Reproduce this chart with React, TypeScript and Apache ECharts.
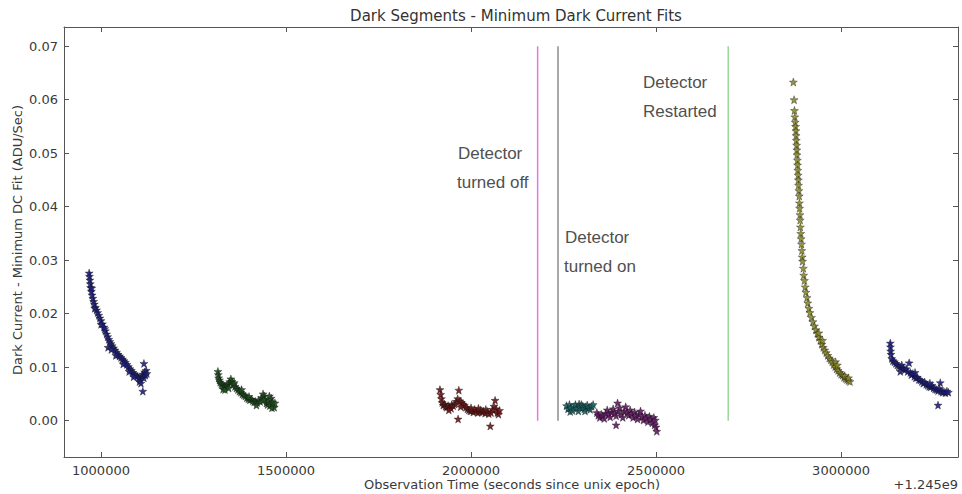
import React, { useEffect, useRef } from "react";
import * as echarts from "echarts";

// x = observation time minus 1.245e9 s, y = dark current minus minimum DC fit (ADU/Sec)
const segment1: number[][] = [
  [968000, 0.0276], [969000, 0.0270], [970000, 0.0263], [971000, 0.0256], [972000, 0.0249],
  [974000, 0.0242], [976000, 0.0235], [978000, 0.0229], [980000, 0.0223], [982000, 0.0218],
  [985000, 0.0212], [988000, 0.0207], [991000, 0.0202], [994000, 0.0197], [997000, 0.0192],
  [1000000, 0.0187], [1004000, 0.0181], [1008000, 0.0175], [1012000, 0.0168], [1015000, 0.0162],
  [1018000, 0.0157], [1021000, 0.0152], [1024000, 0.0148], [1027000, 0.0144], [1030000, 0.0140],
  [1034000, 0.0136], [1038000, 0.0132], [1042000, 0.0128], [1046000, 0.0124], [1050000, 0.0121],
  [1054000, 0.0118], [1058000, 0.0115], [1062000, 0.0112], [1066000, 0.0109], [1070000, 0.0105],
  [1074000, 0.0101], [1078000, 0.0097], [1082000, 0.0094], [1086000, 0.0090], [1090000, 0.0087],
  [1094000, 0.0085], [1098000, 0.0083], [1102000, 0.0080], [1106000, 0.0078], [1110000, 0.0083],
  [1113000, 0.0087], [1116000, 0.0080], [1118000, 0.0091], [1120000, 0.0085], [1122000, 0.0094],
  [1124000, 0.0088], [1116000, 0.0107], [1113000, 0.0055], [1104000, 0.0073], [1019000, 0.0137],
  [1028000, 0.0133], [1040000, 0.0122], [1060000, 0.0106], [1076000, 0.0092], [1088000, 0.0082],
  [1000000, 0.0180], [1010000, 0.0172], [975000, 0.0248], [983000, 0.0210], [1108000, 0.0070],
];

const segment2: number[][] = [
  [1316000, 0.0092], [1317000, 0.0086], [1318000, 0.0080], [1320000, 0.0076], [1322000, 0.0072],
  [1325000, 0.0069], [1328000, 0.0067], [1332000, 0.0065], [1336000, 0.0064], [1340000, 0.0066],
  [1344000, 0.0069], [1348000, 0.0073], [1351000, 0.0078], [1354000, 0.0073], [1358000, 0.0068],
  [1362000, 0.0064], [1366000, 0.0061], [1370000, 0.0058], [1374000, 0.0055], [1378000, 0.0053],
  [1382000, 0.0050], [1386000, 0.0048], [1390000, 0.0046], [1394000, 0.0043], [1398000, 0.0041],
  [1402000, 0.0039], [1406000, 0.0040], [1410000, 0.0037], [1414000, 0.0035], [1418000, 0.0036],
  [1422000, 0.0034], [1426000, 0.0038], [1430000, 0.0036], [1434000, 0.0043], [1438000, 0.0050],
  [1441000, 0.0046], [1444000, 0.0040], [1447000, 0.0033], [1450000, 0.0030], [1453000, 0.0036],
  [1456000, 0.0028], [1460000, 0.0042], [1464000, 0.0035], [1468000, 0.0025], [1470000, 0.0033],
  [1330000, 0.0059], [1335000, 0.0058], [1345000, 0.0061], [1360000, 0.0071], [1380000, 0.0058],
  [1400000, 0.0045], [1420000, 0.0029], [1440000, 0.0039], [1455000, 0.0046], [1462000, 0.0024],
];

const segment3: number[][] = [
  [1916000, 0.0058], [1918000, 0.0049], [1920000, 0.0041], [1922000, 0.0034], [1925000, 0.0029],
  [1928000, 0.0031], [1931000, 0.0027], [1934000, 0.0025], [1938000, 0.0028], [1942000, 0.0026],
  [1946000, 0.0023], [1948000, 0.0030], [1952000, 0.0028], [1956000, 0.0031], [1960000, 0.0036],
  [1964000, 0.0041], [1965000, 0.0003], [1967000, 0.0057], [1970000, 0.0037], [1974000, 0.0034],
  [1978000, 0.0031], [1982000, 0.0029], [1986000, 0.0025], [1990000, 0.0022], [1994000, 0.0020],
  [1998000, 0.0018], [2002000, 0.0019], [2006000, 0.0016], [2010000, 0.0021], [2014000, 0.0018],
  [2018000, 0.0015], [2022000, 0.0017], [2026000, 0.0020], [2030000, 0.0016], [2034000, 0.0018],
  [2038000, 0.0014], [2044000, 0.0017], [2048000, 0.0013], [2052000, -0.0010], [2054000, 0.0015],
  [2058000, 0.0021], [2062000, 0.0027], [2065000, 0.0038], [2068000, 0.0022], [2071000, 0.0015],
  [2074000, 0.0012], [2077000, 0.0019], [1940000, 0.0020], [1972000, 0.0026], [2000000, 0.0024],
  [2020000, 0.0023], [2040000, 0.0021],
];

const segment4: number[][] = [
  [2258000, 0.0028], [2262000, 0.0022], [2266000, 0.0030], [2268000, 0.0017], [2270000, 0.0024],
  [2274000, 0.0019], [2278000, 0.0026], [2282000, 0.0030], [2286000, 0.0023], [2290000, 0.0018],
  [2292000, 0.0031], [2294000, 0.0025], [2298000, 0.0030], [2302000, 0.0027], [2306000, 0.0022],
  [2308000, 0.0018], [2310000, 0.0026], [2314000, 0.0029], [2318000, 0.0024], [2322000, 0.0021],
  [2326000, 0.0027], [2330000, 0.0030],
];

const segment5: number[][] = [
  [2340000, 0.0015], [2344000, 0.0010], [2348000, 0.0006], [2352000, 0.0012], [2356000, 0.0008],
  [2360000, 0.0004], [2364000, 0.0014], [2368000, 0.0020], [2372000, 0.0012], [2376000, 0.0007],
  [2380000, 0.0016], [2384000, 0.0022], [2388000, 0.0014], [2392000, 0.0009], [2392000, -0.0008],
  [2396000, 0.0033], [2398000, 0.0018], [2402000, 0.0024], [2406000, 0.0012], [2410000, 0.0006],
  [2414000, 0.0018], [2418000, 0.0026], [2422000, 0.0015], [2426000, 0.0010], [2430000, 0.0020],
  [2434000, 0.0013], [2438000, 0.0006], [2442000, 0.0016], [2446000, 0.0009], [2450000, 0.0003],
  [2454000, 0.0012], [2458000, 0.0018], [2462000, 0.0007], [2466000, 0.0001], [2470000, 0.0010],
  [2474000, 0.0005], [2478000, -0.0002], [2482000, 0.0008], [2486000, 0.0003], [2490000, -0.0004],
  [2494000, 0.0006], [2496000, -0.0008], [2498000, 0.0001], [2500000, -0.0012], [2502000, -0.0020],
];

const segment6: number[][] = [
  [2871000, 0.0633], [2873000, 0.0600], [2874000, 0.0580], [2875000, 0.0568], [2876000, 0.0558],
  [2877000, 0.0550], [2878000, 0.0542], [2878500, 0.0533], [2879000, 0.0524], [2880000, 0.0515],
  [2880500, 0.0506], [2881000, 0.0497], [2882000, 0.0487], [2882500, 0.0478], [2883000, 0.0468],
  [2884000, 0.0459], [2884500, 0.0450], [2885000, 0.0440], [2886000, 0.0430], [2887000, 0.0420],
  [2887500, 0.0407], [2888000, 0.0397], [2889000, 0.0385], [2889500, 0.0375], [2890000, 0.0362],
  [2891000, 0.0350], [2892000, 0.0340], [2893000, 0.0330], [2894000, 0.0318], [2895000, 0.0306],
  [2896000, 0.0298], [2898000, 0.0285], [2899000, 0.0272], [2901000, 0.0262], [2903000, 0.0250],
  [2905000, 0.0240], [2908000, 0.0230], [2910000, 0.0220], [2913000, 0.0210], [2916000, 0.0202],
  [2920000, 0.0193], [2924000, 0.0185], [2928000, 0.0177], [2932000, 0.0170], [2936000, 0.0163],
  [2940000, 0.0156], [2944000, 0.0150], [2948000, 0.0143], [2952000, 0.0137], [2956000, 0.0132],
  [2960000, 0.0127], [2964000, 0.0122], [2968000, 0.0117], [2972000, 0.0114], [2976000, 0.0110],
  [2980000, 0.0105], [2984000, 0.0101], [2988000, 0.0097], [2992000, 0.0094], [2996000, 0.0090],
  [3000000, 0.0087], [3004000, 0.0085], [3008000, 0.0081], [3012000, 0.0079], [3016000, 0.0077],
  [3020000, 0.0075], [3024000, 0.0073], [2985000, 0.0110], [2990000, 0.0104], [2950000, 0.0150],
  [2940000, 0.0164], [3010000, 0.0084], [3020000, 0.0080],
];

const segment7: number[][] = [
  [3133000, 0.0145], [3133500, 0.0138], [3134000, 0.0130], [3135000, 0.0124], [3137000, 0.0116],
  [3140000, 0.0112], [3144000, 0.0110], [3148000, 0.0107], [3152000, 0.0104], [3156000, 0.0102],
  [3160000, 0.0100], [3164000, 0.0104], [3168000, 0.0098], [3172000, 0.0095], [3176000, 0.0097],
  [3180000, 0.0092], [3184000, 0.0108], [3187000, 0.0090], [3190000, 0.0086], [3194000, 0.0088],
  [3198000, 0.0083], [3202000, 0.0080], [3206000, 0.0081], [3210000, 0.0077], [3214000, 0.0076],
  [3218000, 0.0073], [3222000, 0.0070], [3226000, 0.0072], [3230000, 0.0068], [3234000, 0.0066],
  [3238000, 0.0064], [3242000, 0.0063], [3246000, 0.0066], [3250000, 0.0061], [3254000, 0.0059],
  [3258000, 0.0058], [3262000, 0.0056], [3266000, 0.0060], [3268000, 0.0071], [3270000, 0.0055],
  [3274000, 0.0053], [3278000, 0.0054], [3282000, 0.0052], [3286000, 0.0055], [3290000, 0.0053],
  [3262000, 0.0029], [3200000, 0.0090], [3160000, 0.0092], [3240000, 0.0070],
];

const segmentColors = ["#1e1e80", "#1d4d1d", "#6a1616", "#1b6262", "#621a62", "#8a8a2a", "#1e1e80"];

// events: detector turned off / on / restarted
const eventTimes = [2180000, 2235000, 2695000];
const eventColors = ["#e07ae8", "#a8a8a8", "#98d898"];
const eventSpan = [0, 0.07];

const xTicks = { min: 900000, max: 3316000 };
const yTicks = { min: -0.0068, max: 0.0736 };

const STAR =
  "path://M0,-10L2.35,-3.24L9.51,-3.09L3.8,1.24L5.88,8.09L0,4.2L-5.88,8.09L-3.8,1.24L-9.51,-3.09L-2.35,-3.24Z";

export default function App() {
  const ref = useRef<HTMLDivElement>(null);
  useEffect(() => {
    if (!ref.current) return;
    const chart = echarts.init(ref.current, null, { renderer: "svg" });
    const font = "DejaVu Sans";
    const frame = "#555555";
    const segments = [segment1, segment2, segment3, segment4, segment5, segment6, segment7];
    const scatterSeries = segments.map((d, i) => ({
      type: "scatter",
      xAxisIndex: 0,
      yAxisIndex: 0,
      data: d,
      symbol: STAR,
      symbolSize: 8,
      itemStyle: { color: segmentColors[i], borderColor: "#111111", borderWidth: 0.4, opacity: 0.9 },
      silent: true,
    }));
    const lineSeries = eventTimes.map((t, i) => ({
      type: "line",
      xAxisIndex: 0,
      yAxisIndex: 0,
      data: [[t, eventSpan[0]], [t, eventSpan[1]]],
      symbol: "none",
      lineStyle: { color: eventColors[i], width: i === 1 ? 2 : 1.5 },
      silent: true,
    }));
    const annText = (x: number, y: number, text: string) => ({
      type: "text",
      x,
      y,
      style: {
        text,
        font: "17px 'Liberation Sans', Arial, sans-serif",
        fill: "#505050",
        textVerticalAlign: "middle",
        textAlign: "left",
      },
    });
    const common = {
      min: xTicks.min,
      max: xTicks.max,
      type: "value" as const,
      splitNumber: 5,
      splitLine: { show: false },
      axisLine: { show: true, onZero: false, lineStyle: { color: frame, width: 1 } },
      axisTick: { show: true, inside: true, length: 5, lineStyle: { color: frame } },
    };
    const commonY = {
      min: yTicks.min,
      max: yTicks.max,
      type: "value" as const,
      splitNumber: 8,
      splitLine: { show: false },
      axisLine: { show: true, onZero: false, lineStyle: { color: frame, width: 1 } },
      axisTick: { show: true, inside: true, length: 5, lineStyle: { color: frame } },
    };
    chart.setOption({
      animation: false,
      backgroundColor: "#ffffff",
      title: {
        text: "Dark Segments - Minimum Dark Current Fits",
        left: 511,
        top: 3,
        textAlign: "center",
        textStyle: { fontFamily: font, fontSize: 15, fontWeight: "normal", color: "#333333" },
      },
      grid: { left: 64, right: 4, top: 27, bottom: 37, containLabel: false },
      xAxis: [
        {
          ...common,
          position: "bottom",
          axisLabel: {
            show: true,
            showMinLabel: false,
            showMaxLabel: false,
            margin: 7,
            fontFamily: font,
            fontSize: 13,
            color: "#3a3a3a",
            formatter: (v: number) => String(Math.round(v)),
          },
        },
        { ...common, position: "top", axisLabel: { show: false } },
      ],
      yAxis: [
        {
          ...commonY,
          position: "left",
          axisLabel: {
            show: true,
            showMinLabel: false,
            showMaxLabel: false,
            margin: 6,
            fontFamily: font,
            fontSize: 13,
            color: "#3a3a3a",
            formatter: (v: number) => v.toFixed(2),
          },
        },
        { ...commonY, position: "right", axisLabel: { show: false } },
      ],
      series: [...lineSeries, ...scatterSeries],
      graphic: [
        {
          type: "text",
          x: 512,
          y: 484,
          style: {
            text: "Observation Time (seconds since unix epoch)",
            font: `13px '${font}'`,
            fill: "#3a3a3a",
            textAlign: "center",
            textVerticalAlign: "middle",
          },
        },
        {
          type: "text",
          x: 958,
          y: 484,
          style: {
            text: "+1.245e9",
            font: `13px '${font}'`,
            fill: "#3a3a3a",
            textAlign: "right",
            textVerticalAlign: "middle",
          },
        },
        {
          type: "text",
          x: 17,
          y: 240,
          rotation: Math.PI / 2,
          style: {
            text: "Dark Current - Minimum DC Fit (ADU/Sec)",
            font: `13px '${font}'`,
            fill: "#3a3a3a",
            textAlign: "center",
            textVerticalAlign: "middle",
          },
        },
        annText(458, 153, "Detector"),
        annText(457, 182, "turned off"),
        annText(565, 237, "Detector"),
        annText(564, 266, "turned on"),
        annText(643, 82, "Detector"),
        annText(643, 111, "Restarted"),
      ],
    });
    return () => chart.dispose();
  }, []);
  return (
    <div
      ref={ref}
      style={{ position: "fixed", left: 0, top: 0, width: 962, height: 494, background: "#fff" }}
    />
  );
}
